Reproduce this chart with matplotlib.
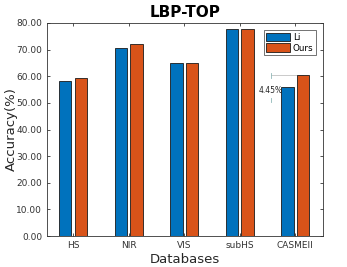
import matplotlib
matplotlib.use("Agg")
import matplotlib.pyplot as plt
import numpy as np

categories = ["HS", "NIR", "VIS", "subHS", "CASMEII"]
li_values = [58.1, 70.5, 64.9, 77.6, 55.95]
ours_values = [59.3, 72.2, 64.9, 77.6, 60.40]
series_names = ["Li", "Ours"]
yticks = [0, 10, 20, 30, 40, 50, 60, 70, 80]
gap_label = "4.45%"

plt.rcParams['font.family'] = ['DejaVu Sans']
fig = plt.figure(figsize=(3.47, 2.67), dpi=100)
ax = fig.add_axes([47/347, 1-236/267, 276/347, 213/267])

x = np.arange(1, len(categories) + 1)
w = 0.22
off = 0.14
ax.bar(x - off, li_values, w, color="#0072BD", edgecolor="#1a1a1a", linewidth=0.6, label=series_names[0], zorder=2)
ax.bar(x + off, ours_values, w, color="#D95319", edgecolor="#1a1a1a", linewidth=0.6, label=series_names[1], zorder=2)

ax.set_xlim(0.53, 5.5)
ax.set_ylim(0, 80)
ax.set_yticks(yticks)
ax.set_yticklabels([f"{v:.2f}" for v in yticks])
ax.set_xticks(x)
ax.set_xticklabels(categories)
ax.tick_params(axis='both', labelsize=6.5, colors="#333333", direction='in', length=2.5, width=0.6,
               top=True, right=True)
for s in ax.spines.values():
    s.set_color("#333333")
    s.set_linewidth(0.6)

ax.set_title("LBP-TOP", fontsize=11, fontweight='bold', pad=4)
ax.set_xlabel("Databases", fontsize=9.5, color="#262626", labelpad=2)
ax.set_ylabel("Accuracy(%)", fontsize=9.5, color="#262626")
ax.yaxis.set_label_coords(-0.105, 0.5)

leg = ax.legend(loc='upper right', fontsize=6.3, frameon=True, fancybox=False, edgecolor="#333333",
                handlelength=2.7, handleheight=1.15, borderpad=0.3, labelspacing=0.15,
                handletextpad=0.3, borderaxespad=0.8)
leg.get_frame().set_linewidth(0.6)

# gap annotation on CASMEII
xa = 4.565
mark_color = "#8fb8b8"
ax.plot([xa, 5 + off], [ours_values[4], ours_values[4]], color="#b5b5b5", lw=0.5, zorder=1)
ax.plot([xa, xa], [ours_values[4] - 1.0, ours_values[4] + 0.8], color=mark_color, lw=0.6, zorder=1)
ax.plot([xa, xa], [li_values[4] - 5.7, li_values[4] - 4.0], color=mark_color, lw=0.6, zorder=1)
ax.text(xa, 54.6, gap_label, fontsize=5.5, color="#262626",
        ha='center', va='center', zorder=3)

fig.savefig("out.png", dpi=100)
